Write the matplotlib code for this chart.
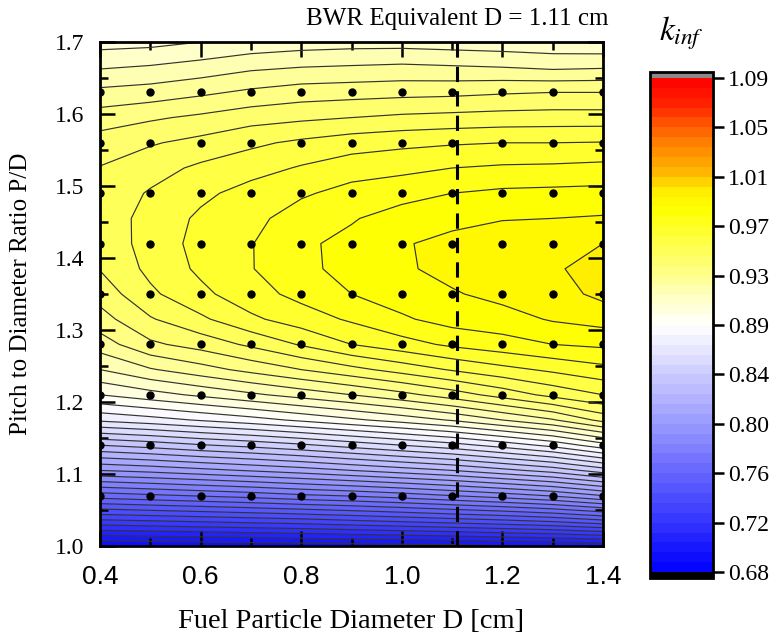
import numpy as np
import matplotlib.pyplot as plt
from matplotlib import font_manager
from matplotlib.colors import LinearSegmentedColormap
from matplotlib.ticker import MultipleLocator, FormatStrFormatter

plt.rcParams['font.family'] = 'Liberation Serif'
plt.rcParams['mathtext.fontset'] = 'stix'

# fuel particle diameter D [cm] (grid columns)
diam = [0.4, 0.5, 0.6, 0.7, 0.8, 0.9, 1.0, 1.1, 1.2, 1.3, 1.4]
# pitch to diameter ratio P/D (grid rows)
pitch = [1.000, 1.035, 1.070, 1.105, 1.140, 1.175, 1.210, 1.245, 1.280, 1.315,
         1.350, 1.385, 1.420, 1.455, 1.490, 1.525, 1.560, 1.595, 1.630, 1.665, 1.700]

# k_inf, one row per P/D value
kinf = [
    [0.6882, 0.6890, 0.6898, 0.6907, 0.6915, 0.6923, 0.6931, 0.6939, 0.6956, 0.6964, 0.6980],
    [0.7276, 0.7292, 0.7308, 0.7325, 0.7341, 0.7366, 0.7390, 0.7415, 0.7440, 0.7472, 0.7522],
    [0.7661, 0.7686, 0.7710, 0.7735, 0.7768, 0.7792, 0.7825, 0.7866, 0.7907, 0.7956, 0.8030],
    [0.8030, 0.8055, 0.8087, 0.8120, 0.8153, 0.8194, 0.8235, 0.8276, 0.8333, 0.8391, 0.8481],
    [0.8358, 0.8391, 0.8432, 0.8465, 0.8506, 0.8555, 0.8604, 0.8653, 0.8719, 0.8793, 0.8899],
    [0.8702, 0.8735, 0.8776, 0.8817, 0.8866, 0.8916, 0.8965, 0.9022, 0.9096, 0.9170, 0.9285],
    [0.8932, 0.8981, 0.9030, 0.9080, 0.9129, 0.9178, 0.9235, 0.9301, 0.9375, 0.9449, 0.9506],
    [0.9096, 0.9170, 0.9227, 0.9285, 0.9342, 0.9399, 0.9457, 0.9514, 0.9563, 0.9604, 0.9645],
    [0.9219, 0.9326, 0.9375, 0.9440, 0.9514, 0.9588, 0.9637, 0.9686, 0.9719, 0.9752, 0.9768],
    [0.9309, 0.9416, 0.9490, 0.9572, 0.9629, 0.9682, 0.9740, 0.9785, 0.9801, 0.9842, 0.9867],
    [0.9375, 0.9490, 0.9568, 0.9637, 0.9695, 0.9752, 0.9793, 0.9826, 0.9859, 0.9883, 0.9937],
    [0.9428, 0.9527, 0.9604, 0.9666, 0.9727, 0.9785, 0.9822, 0.9859, 0.9883, 0.9904, 0.9953],
    [0.9457, 0.9535, 0.9617, 0.9666, 0.9736, 0.9777, 0.9826, 0.9859, 0.9875, 0.9891, 0.9916],
    [0.9465, 0.9531, 0.9604, 0.9645, 0.9711, 0.9744, 0.9793, 0.9809, 0.9830, 0.9834, 0.9842],
    [0.9453, 0.9514, 0.9568, 0.9621, 0.9658, 0.9699, 0.9719, 0.9752, 0.9768, 0.9773, 0.9777],
    [0.9428, 0.9473, 0.9522, 0.9555, 0.9596, 0.9633, 0.9650, 0.9670, 0.9682, 0.9686, 0.9695],
    [0.9379, 0.9416, 0.9449, 0.9490, 0.9522, 0.9551, 0.9568, 0.9580, 0.9588, 0.9588, 0.9592],
    [0.9301, 0.9330, 0.9358, 0.9391, 0.9408, 0.9424, 0.9440, 0.9449, 0.9457, 0.9461, 0.9461],
    [0.9199, 0.9215, 0.9244, 0.9276, 0.9301, 0.9309, 0.9317, 0.9322, 0.9334, 0.9342, 0.9342],
    [0.9088, 0.9104, 0.9129, 0.9162, 0.9178, 0.9186, 0.9194, 0.9186, 0.9178, 0.9162, 0.9170],
    [0.8981, 0.8989, 0.9014, 0.9039, 0.9055, 0.9063, 0.9063, 0.9055, 0.9047, 0.9039, 0.9030],
]

# calculated cases (black dots)
dot_d = [0.4, 0.5, 0.6, 0.7, 0.8, 0.9, 1.0, 1.1, 1.2, 1.3, 1.4]
dot_pd = [1.07, 1.14, 1.21, 1.28, 1.35, 1.42, 1.49, 1.56, 1.63]

bwr_d = 1.11
cbar_labels = ['0.68', '0.72', '0.76', '0.80', '0.84', '0.89',
               '0.93', '0.97', '1.01', '1.05', '1.09']

kmin, kmax = 0.68, 1.09
levels = np.linspace(kmin, kmax, 51)

def frac(v):
    return (v - kmin) / (kmax - kmin)

cmap = LinearSegmentedColormap.from_list('kinf', [
    (0.0, (0.0, 0.0, 1.0)),
    (frac(0.885), (1.0, 1.0, 1.0)),
    (frac(0.98), (1.0, 1.0, 0.0)),
    (frac(0.998), (1.0, 0.93, 0.0)),
    (frac(1.01), (1.0, 0.74, 0.0)),
    (frac(1.04), (1.0, 0.46, 0.0)),
    (frac(1.07), (1.0, 0.13, 0.0)),
    (1.0, (1.0, 0.0, 0.0)),
])
cmap.set_over('#8a8a8a')
cmap.set_under('black')

names = {f.name for f in font_manager.fontManager.ttflist}
xfont = 'Liberation Sans Narrow' if 'Liberation Sans Narrow' in names else 'Liberation Sans'

fig = plt.figure(figsize=(7.83, 6.4), dpi=100)
ax = fig.add_axes([100 / 783, 94 / 640, 503 / 783, 504 / 640])
cax = fig.add_axes([650 / 783, 62 / 640, 63 / 783, 506 / 640])

X, Y = np.meshgrid(diam, pitch)
Z = np.array(kinf)
cf = ax.contourf(X, Y, Z, levels=levels, cmap=cmap, extend='both')
ax.contour(X, Y, Z, levels=levels, colors='#333333', linewidths=0.85)

DX, DY = np.meshgrid(dot_d, dot_pd)
ax.plot(DX.ravel(), DY.ravel(), 'o', ms=5, color='black', zorder=4)

ax.axvline(bwr_d, color='black', lw=2.2, dashes=(5, 3), zorder=5)
ax.annotate('BWR Equivalent D = 1.11 cm', xy=(bwr_d, 1.0),
            xycoords=('data', 'axes fraction'), xytext=(0, 9),
            textcoords='offset points', ha='center', va='bottom', fontsize=18)

ax.set_xlim(0.4, 1.4)
ax.set_ylim(1.0, 1.7)
ax.xaxis.set_major_locator(MultipleLocator(0.2))
ax.xaxis.set_minor_locator(MultipleLocator(0.1))
ax.yaxis.set_major_locator(MultipleLocator(0.1))
ax.yaxis.set_minor_locator(MultipleLocator(0.05))
ax.xaxis.set_major_formatter(FormatStrFormatter('%.1f'))
ax.yaxis.set_major_formatter(FormatStrFormatter('%.1f'))
ax.tick_params(which='both', direction='in', top=True, right=True, width=1.8)
ax.tick_params(which='major', length=11)
ax.tick_params(which='minor', length=5.5)
ax.tick_params(axis='x', pad=14)
ax.tick_params(axis='y', pad=11, labelsize=17)
for lab in ax.get_xticklabels():
    lab.set_fontfamily(xfont)
    lab.set_fontsize(19)
for sp in ax.spines.values():
    sp.set_linewidth(2)

ax.set_xlabel('Fuel Particle Diameter D [cm]', fontsize=20.5)
ax.xaxis.set_label_coords(0.5, -0.125)
ax.set_ylabel('Pitch to Diameter Ratio P/D', fontsize=18)
ax.yaxis.set_label_coords(-0.135, 0.5)

cbar = fig.colorbar(cf, cax=cax, ticks=levels[::5], extendrect=True, extendfrac=0.012)
cbar.ax.set_yticklabels(cbar_labels)
cbar.outline.set_linewidth(2)
cax.tick_params(direction='out', length=8, width=1.8, labelsize=17, pad=3)
cax.set_title(r'$k_{inf}$', fontsize=24, pad=27)

fig.savefig('out.png', dpi=100)
